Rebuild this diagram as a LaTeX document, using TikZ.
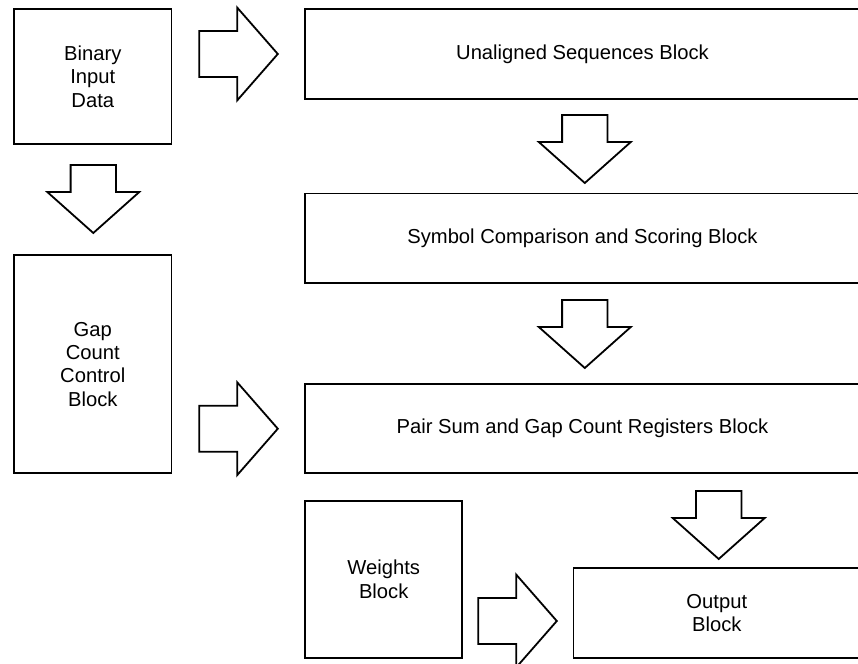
\documentclass[tikz,border=0pt]{standalone}
\usepackage{fontspec}
\setmainfont{Liberation Sans}
\begin{document}
\begin{tikzpicture}[x=1pt, y=-1pt,
  box/.style={draw=black, line width=1.8pt, fill=white, align=center,
    inner sep=0pt, font=\fontsize{20.2}{23.4}\selectfont},
  blockarrow/.style={draw=black, line width=1.8pt, fill=white, line join=miter},
  % hollow block arrow pointing right, anchored at the middle of its tail
  pics/rblock/.style={code={
    \draw[blockarrow] (0,-23) -- (38,-23) -- (38,-46.3) -- (78.5,0)
      -- (38,46.3) -- (38,23) -- (0,23) -- cycle;}},
  % hollow block arrow pointing down, anchored at the middle of its tail
  pics/dblock/.style={code={
    \draw[blockarrow] (-22.7,0) -- (22.7,0) -- (22.7,27) -- (46,27)
      -- (0,68) -- (-46,27) -- (-22.7,27) -- cycle;}}]
\useasboundingbox (0,0) rectangle (858,663);
\clip (0,0) rectangle (858,663);
\fill[white] (0,0) rectangle (858,663);

% blocks
\node[box, minimum width=157.5pt, minimum height=134.7pt] (bin) at (92.8,76.7) {Binary\\Input\\Data};
\node[box, minimum width=157.5pt, minimum height=218.3pt] (gap) at (92.8,364.2) {Gap\\Count\\Control\\Block};
\node[box, minimum width=555pt, minimum height=89.5pt] (uns) at (582.5,54) {Unaligned Sequences Block};
\node[box, minimum width=555pt, minimum height=89.5pt] (sym) at (582.5,238.3) {Symbol Comparison and Scoring Block};
\node[box, minimum width=555pt, minimum height=89.5pt] (pair) at (582.5,428.5) {Pair Sum and Gap Count Registers Block};
\node[box, minimum width=157.3pt, minimum height=156.7pt] (wts) at (383.7,579.3) {Weights\\Block};
\node[box, minimum width=286.5pt, minimum height=89.4pt] (out) at (716.8,613) {Output\\Block};

% flow arrows between the blocks
\pic at (199.3,54) {rblock};
\pic at (199.3,428.7) {rblock};
\pic at (478.3,621) {rblock};
\pic at (93.3,165) {dblock};
\pic at (584.8,115) {dblock};
\pic at (584.8,300) {dblock};
\pic at (718.7,491) {dblock};
\end{tikzpicture}
\end{document}
